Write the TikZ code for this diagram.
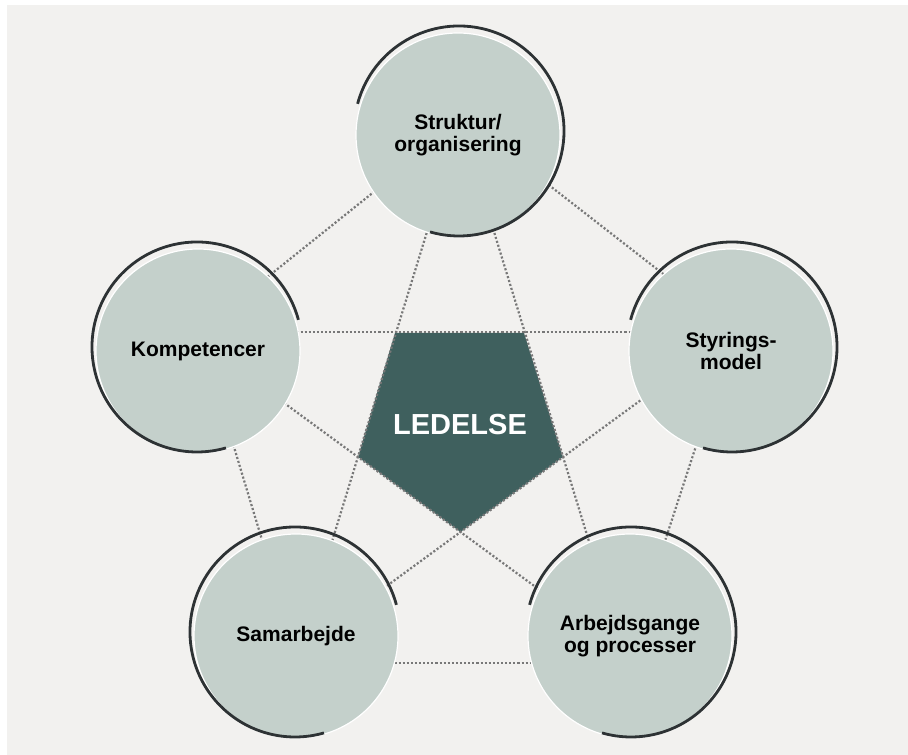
\documentclass[tikz,border=0pt]{standalone}
\usepackage{fontspec}
\setmainfont{Liberation Sans}
\definecolor{bgc}{RGB}{242,241,239}
\definecolor{circ}{RGB}{196,208,203}
\definecolor{pent}{RGB}{63,96,94}
\definecolor{arcc}{RGB}{45,50,52}
\definecolor{dotc}{RGB}{120,120,120}
\begin{document}
\begin{tikzpicture}[x=1pt,y=1pt,
 bubble/.style={circle,minimum size=204pt,inner sep=0pt,fill=circ,draw=white,line width=1.2pt,align=center,font=\fontsize{21}{22.5}\selectfont\bfseries,text=black},
 rim/.style={draw=arcc,line width=2.8pt},
 link/.style={draw=dotc,line width=2.2pt,dash pattern=on 2.1pt off 2.0pt}]
\useasboundingbox (0,0) rectangle (908,755);
\fill[bgc] (7,0) rectangle (908,750);
% pentagon corners
\coordinate (p1) at (395,422);
\coordinate (p2) at (524,422);
\coordinate (p3) at (563,298);
\coordinate (p4) at (460.5,223);
\coordinate (p5) at (358,298);
\fill[pent] (p1) -- (p2) -- (p3) -- (p4) -- (p5) -- cycle;
\node[font=\fontsize{29}{30}\selectfont\bfseries,text=white] (led) at (460,330) {LEDELSE};
% connector end points
\coordinate (d1a) at (198,423);   \coordinate (d1b) at (731,423);
\coordinate (d2a) at (456.7,620); \coordinate (d2b) at (303,119);
\coordinate (d3a) at (464.3,620); \coordinate (d3b) at (618,119);
\coordinate (d4a) at (198,415);   \coordinate (d4b) at (630,99);
\coordinate (d5a) at (723,415);   \coordinate (d5b) at (291,99);
\coordinate (e1a) at (458,630.4); \coordinate (e1b) at (198,422.4);
\coordinate (e2a) at (458,640.5); \coordinate (e2b) at (731,428.4);
\coordinate (e3a) at (205,404);   \coordinate (e3b) at (291,119);
\coordinate (e4a) at (727,404);   \coordinate (e4b) at (634,119);
\coordinate (e5a) at (296,92);    \coordinate (e5b) at (630,92);
\foreach \u in {d1,d2,d3,d4,d5,e1,e2,e3,e4,e5}{\draw[link] (\u a) -- (\u b);}
% circles
\node[bubble] (s) at (458,620) {Struktur/\\organisering};
\node[bubble] (k) at (198,404) {Kompetencer};
\node[bubble] (y) at (731,404) {Styrings-\\model};
\node[bubble] (b) at (296,119) {Samarbejde};
\node[bubble] (a) at (630,119) {Arbejdsgange\\og processer};
% outer arcs
\foreach \n in {s,y,a}{\draw[rim] (\n.center) ++(1,4) ++(165:105) arc[start angle=165,end angle=-106,radius=105];}
\foreach \n in {k,b}{\draw[rim] (\n.center) ++(-1,4) ++(15:105) arc[start angle=15,end angle=286,radius=105];}
\end{tikzpicture}
\end{document}
